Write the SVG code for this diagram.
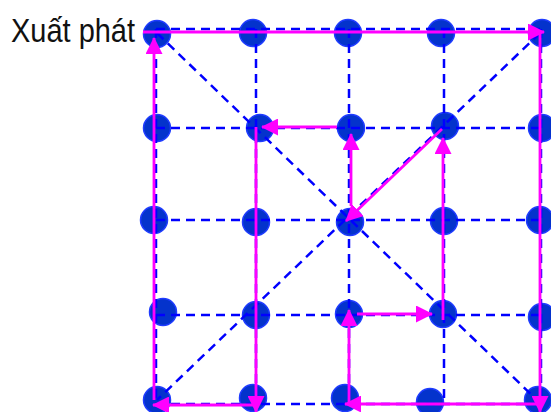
<svg xmlns="http://www.w3.org/2000/svg" width="551" height="412" viewBox="0 0 551 412">
<style>
.n{fill:#0433CC;stroke:#1f3cff;stroke-width:1.5}
.g{stroke:#0000FF;stroke-width:2.5;stroke-dasharray:9 6;fill:none}
.p{stroke:#FF00FF;stroke-width:2.8;fill:none;marker-end:url(#ah)}
.t{font-family:"Liberation Sans",Arial,sans-serif;font-size:33px;fill:#111}
</style>
<defs>
<marker id="ah" markerUnits="userSpaceOnUse" markerWidth="17" markerHeight="17" viewBox="0 0 17 17" refX="16" refY="8.5" orient="auto">
<path d="M0,0 L17,8.5 L0,17 Z" fill="#FF00FF"/>
</marker>
</defs>
<rect width="551" height="412" fill="#fff"/>
<text class="t" x="11" y="42" textLength="124" lengthAdjust="spacingAndGlyphs">Xuất phát</text>
<g id="nodes">
<g id="n11"><circle class="n" cx="157" cy="34" r="13.5"/></g>
<g id="n12"><circle class="n" cx="253" cy="33" r="13.5"/></g>
<g id="n13"><circle class="n" cx="348" cy="33" r="13.5"/></g>
<g id="n14"><circle class="n" cx="441" cy="33" r="13.5"/></g>
<g id="n15"><circle class="n" cx="542" cy="33" r="13.5"/></g>
<g id="n21"><circle class="n" cx="157" cy="128" r="13.5"/></g>
<g id="n22"><circle class="n" cx="260" cy="128" r="13.5"/></g>
<g id="n23"><circle class="n" cx="351" cy="128" r="13.5"/></g>
<g id="n24"><circle class="n" cx="445" cy="126" r="13.5"/></g>
<g id="n25"><circle class="n" cx="542" cy="128" r="13.5"/></g>
<g id="n31"><circle class="n" cx="154" cy="220" r="13.5"/></g>
<g id="n32"><circle class="n" cx="256" cy="222" r="13.5"/></g>
<g id="n33"><circle class="n" cx="350" cy="222" r="13.5"/></g>
<g id="n34"><circle class="n" cx="444" cy="221" r="13.5"/></g>
<g id="n35"><circle class="n" cx="540" cy="220" r="13.5"/></g>
<g id="n41"><circle class="n" cx="163" cy="312" r="13.5"/></g>
<g id="n42"><circle class="n" cx="256" cy="315" r="13.5"/></g>
<g id="n43"><circle class="n" cx="349" cy="314" r="13.5"/></g>
<g id="n44"><circle class="n" cx="443" cy="314" r="13.5"/></g>
<g id="n45"><circle class="n" cx="542" cy="317" r="13.5"/></g>
<g id="n51"><circle class="n" cx="157" cy="400" r="13.5"/></g>
<g id="n52"><circle class="n" cx="253" cy="398" r="13.5"/></g>
<g id="n53"><circle class="n" cx="345" cy="398" r="13.5"/></g>
<g id="n54"><circle class="n" cx="430" cy="402" r="13.5"/></g>
<g id="n55"><circle class="n" cx="538" cy="400" r="13.5"/></g>
</g>
<g id="connectors">
<g id="grid">
<path class="g" d="M156,29V404M256,29V404M349,29V404M444,29V404M541,29V404"/>
<path class="g" d="M156,29H541M156,128H541M156,220H541M156,315H541M156,404H541"/>
<path class="g" d="M157,33L540,403M540,33L157,400"/>
</g>
<g id="path">
<path class="p" d="M154,400V38"/>
<path class="p" d="M143,32H544"/>
<path class="p" d="M540,32V412"/>
<path class="p" d="M540,404H345"/>
<path class="p" d="M349,404V310"/>
<path class="p" d="M357,314H432"/>
<path class="p" d="M443,320V138"/>
<path class="p" d="M442,129L346,221"/>
<path class="p" d="M351,206V134"/>
<path class="p" d="M337,127H262"/>
<path class="p" d="M256,127V412"/>
<path class="p" d="M253,405H153"/>
</g>
</g>
</svg>
